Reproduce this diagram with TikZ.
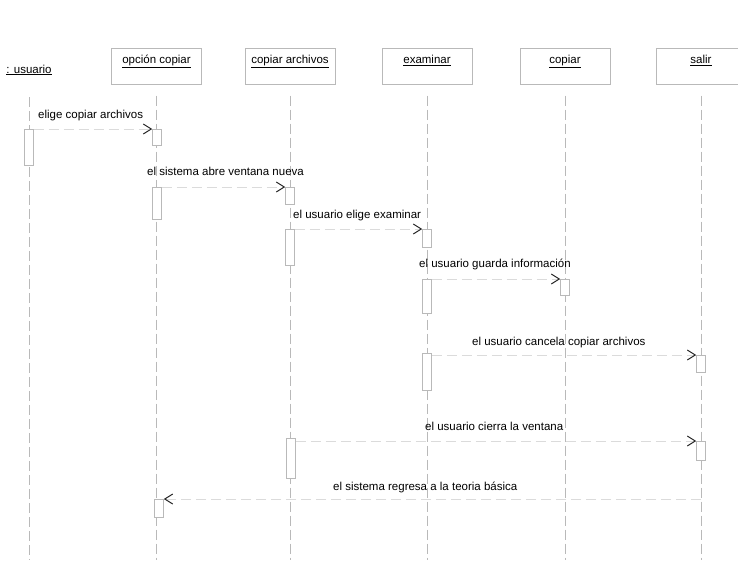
\documentclass[tikz,border=0pt]{standalone}
\usepackage{fontspec}
\setmainfont{Liberation Sans}
\usetikzlibrary{arrows.meta}
\begin{document}
\begin{tikzpicture}[x=1pt,y=-1pt,
  font=\fontsize{11.5}{13}\selectfont,
  header/.style={draw=gray!55, line width=0.6pt, minimum width=90pt,
    inner xsep=2pt, inner ysep=3pt, text height=12pt, text depth=18pt,
    anchor=north, text=black},
  lifeline/.style={draw=gray!55, line width=0.7pt, dash pattern=on 10pt off 4pt},
  act/.style={draw=gray!55, fill=white, line width=0.6pt, minimum width=9pt,
    inner sep=0pt, anchor=north},
  msg/.style={draw=gray!28, line width=0.7pt, dash pattern=on 10pt off 5pt,
    -{Straight Barb[length=8pt,width=10pt,line width=1pt,color=black!85]}},
  msglabel/.style={anchor=base west, inner sep=0pt, text=black}
]
\useasboundingbox (0,0) rectangle (738,560);
\coordinate (bot) at (0,560);

% objects
\node[anchor=base, inner sep=0pt, text=black] (usr) at (29,73) {\underline{: usuario}};
\node[header] (h1) at (156.5,48) {\underline{opción copiar}};
\node[header] (h2) at (290,48) {\underline{copiar archivos}};
\node[header] (h3) at (427,48) {\underline{examinar}};
\node[header] (h4) at (565,48) {\underline{copiar}};
\node[header] (h5) at (701,48) {\underline{salir}};

% lifelines
\draw[lifeline] ([yshift=-24pt]usr.base) -- (usr.base |- bot);
\foreach \h in {h1,h2,h3,h4,h5}
  \draw[lifeline] ([yshift=-11pt]\h.south) -- (\h.south |- bot);

% activations
\node[act, minimum height=36pt] (a0) at (29,129) {};
\node[act, minimum height=16pt] (a1) at (157,129) {};
\node[act, minimum height=32pt] (a2) at (157,187) {};
\node[act, minimum height=17pt] (b1) at (290,187) {};
\node[act, minimum height=36pt] (b2) at (290,229) {};
\node[act, minimum height=18pt] (c1) at (427,229) {};
\node[act, minimum height=34pt] (c2) at (427,279) {};
\node[act, minimum height=16pt] (d1) at (565,279) {};
\node[act, minimum height=37pt] (c3) at (427,353) {};
\node[act, minimum height=17pt] (e1) at (701,355) {};
\node[act, minimum height=40pt] (b3) at (291,438) {};
\node[act, minimum height=19pt] (e2) at (701,441) {};
\node[act, minimum height=18pt] (a3) at (159,499) {};
\coordinate (r7) at (701,499);

% messages
\draw[msg] (a0.north east) -- (a1.north west);
\draw[msg] (a2.north east) -- (b1.north west);
\draw[msg] (b2.north east) -- (c1.north west);
\draw[msg] (c2.north east) -- (d1.north west);
\draw[msg] (c3.east |- e1.north) -- (e1.north west);
\draw[msg] (b3.east |- e2.north) -- (e2.north west);
\draw[msg] (r7) -- (a3.north east);

% message labels
\node[msglabel] (l1) at (38,118) {elige copiar archivos};
\node[msglabel] (l2) at (147,175) {el sistema abre ventana nueva};
\node[msglabel] (l3) at (293,218) {el usuario elige examinar};
\node[msglabel] (l4) at (419,267) {el usuario guarda información};
\node[msglabel] (l5) at (472,345) {el usuario cancela copiar archivos};
\node[msglabel] (l6) at (425,430) {el usuario cierra la ventana};
\node[msglabel] (l7) at (333,490) {el sistema regresa a la teoria básica};
\end{tikzpicture}
\end{document}
